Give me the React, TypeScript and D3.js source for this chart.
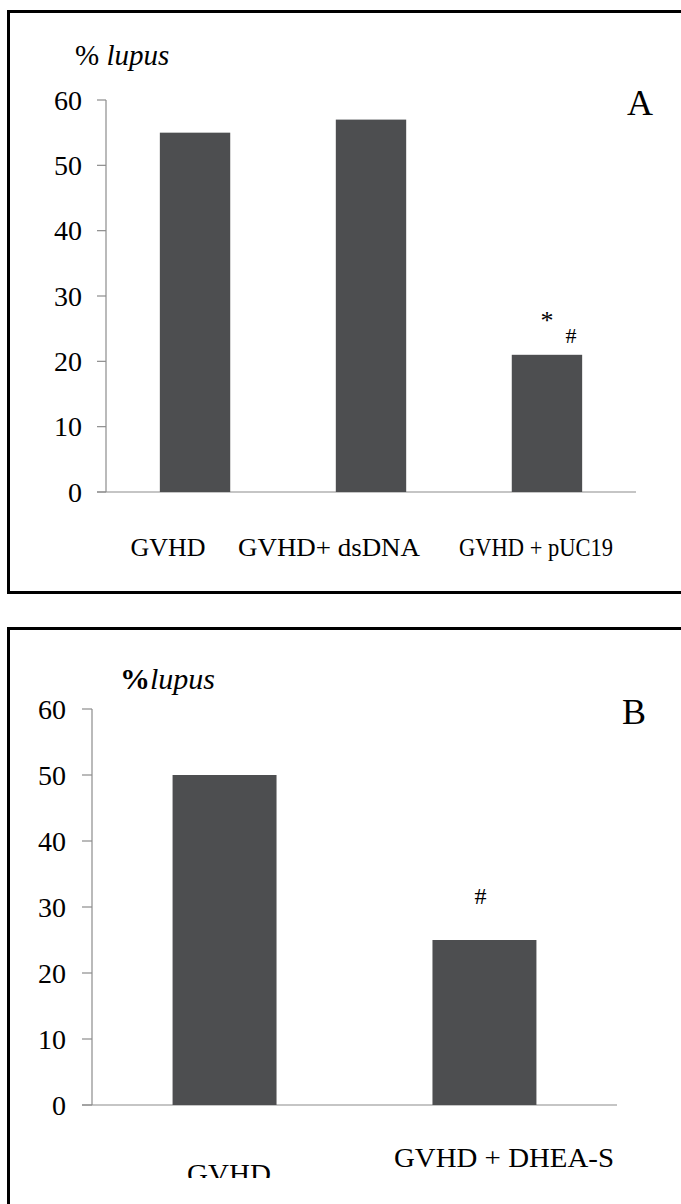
import React from "react";
import * as d3 from "d3";

const categoriesA = ["GVHD", "GVHD+ dsDNA", "GVHD + pUC19"];
const valuesA = [55, 57, 21];
const marksA = ["", "", "*#"];
const categoriesB = ["GVHD", "GVHD + DHEA-S"];
const valuesB = [50, 25];
const marksB = ["", "#"];
const yTicks = [0, 10, 20, 30, 40, 50, 60];

const BAR = "#4d4e50";
const AXIS = "#8c8c8c";
const FONT = "'Liberation Serif', 'DejaVu Serif', serif";

export default function App() {
  const yA = d3.scaleLinear().domain([0, 60]).range([492, 100]);
  const xA = d3.scaleBand<string>().domain(categoriesA).range([106, 636]).paddingInner(0.6).paddingOuter(0.306);
  const yB = d3.scaleLinear().domain([0, 60]).range([1105, 709]);
  const xB = d3.scaleBand<string>().domain(categoriesB).range([92, 617]).paddingInner(0.6).paddingOuter(0.31);

  const labelXA = [168, 329, 536];
  const labelWA = [75, 182, 154];
  const labelXB = [229, 504];
  const labelWB = [84, 220];

  return (
    <svg width={681} height={1204} style={{ position: "absolute", left: 0, top: 0 }} fontFamily={FONT}>
      <rect x={0} y={0} width={681} height={1204} fill="#fff" />
      <defs>
        <clipPath id="clipB">
          <rect x={0} y={0} width={681} height={1178} />
        </clipPath>
      </defs>

      {/* Panel A */}
      <rect x={8.5} y={11.5} width={700} height={581} fill="none" stroke="#000" strokeWidth={3} />
      <text x={75} y={65} fontSize={29}>
        <tspan>% </tspan>
        <tspan fontStyle="italic">lupus</tspan>
      </text>
      <text x={627} y={115} fontSize={36}>A</text>
      <line x1={106} x2={106} y1={yA(60)} y2={yA(0)} stroke={AXIS} strokeWidth={1.2} />
      <line x1={97} x2={636} y1={yA(0)} y2={yA(0)} stroke={AXIS} strokeWidth={1.2} />
      {yTicks.map((t) => (
        <g key={"ta" + t}>
          <line x1={97} x2={106} y1={yA(t)} y2={yA(t)} stroke={AXIS} strokeWidth={1.2} />
          <text x={82} y={yA(t)} dy="0.35em" textAnchor="end" fontSize={28}>{t}</text>
        </g>
      ))}
      {categoriesA.map((c, i) => (
        <rect key={c} x={xA(c)} y={yA(valuesA[i])} width={xA.bandwidth()} height={yA(0) - yA(valuesA[i])} fill={BAR} />
      ))}
      {categoriesA.map((c, i) => (
        <text key={"la" + c} x={labelXA[i]} y={556} textAnchor="middle" fontSize={26}
          textLength={labelWA[i]} lengthAdjust="spacingAndGlyphs">{c}</text>
      ))}
      {categoriesA.map((c, i) =>
        marksA[i] ? (
          <g key={"ma" + c}>
            <text x={(xA(c) as number) + xA.bandwidth() / 2} y={yA(valuesA[i]) - 26} textAnchor="middle" fontSize={26}>*</text>
            <text x={(xA(c) as number) + xA.bandwidth() / 2 + 24} y={yA(valuesA[i]) - 12} textAnchor="middle" fontSize={22}>#</text>
          </g>
        ) : null
      )}

      {/* Panel B */}
      <rect x={8.5} y={628.5} width={700} height={620} fill="none" stroke="#000" strokeWidth={3} />
      <text x={120} y={689} fontSize={30}>
        <tspan fontWeight="bold">%</tspan>
        <tspan fontStyle="italic">lupus</tspan>
      </text>
      <text x={622} y={724} fontSize={36}>B</text>
      <line x1={92} x2={92} y1={yB(60)} y2={yB(0)} stroke={AXIS} strokeWidth={1.2} />
      <line x1={82} x2={617} y1={yB(0)} y2={yB(0)} stroke={AXIS} strokeWidth={1.2} />
      {yTicks.map((t) => (
        <g key={"tb" + t}>
          <line x1={82} x2={92} y1={yB(t)} y2={yB(t)} stroke={AXIS} strokeWidth={1.2} />
          <text x={66} y={yB(t)} dy="0.35em" textAnchor="end" fontSize={28}>{t}</text>
        </g>
      ))}
      {categoriesB.map((c, i) => (
        <rect key={c} x={xB(c)} y={yB(valuesB[i])} width={xB.bandwidth()} height={yB(0) - yB(valuesB[i])} fill={BAR} />
      ))}
      <g clipPath="url(#clipB)">
        {categoriesB.map((c, i) => (
          <text key={"lb" + c} x={labelXB[i]} y={i === 0 ? 1183 : 1167} textAnchor="middle" fontSize={28}
            textLength={labelWB[i]} lengthAdjust="spacingAndGlyphs">{c}</text>
        ))}
      </g>
      {categoriesB.map((c, i) =>
        marksB[i] ? (
          <text key={"mb" + c} x={(xB(c) as number) + xB.bandwidth() / 2 - 4} y={yB(valuesB[i]) - 36} textAnchor="middle" fontSize={24}>#</text>
        ) : null
      )}
    </svg>
  );
}
